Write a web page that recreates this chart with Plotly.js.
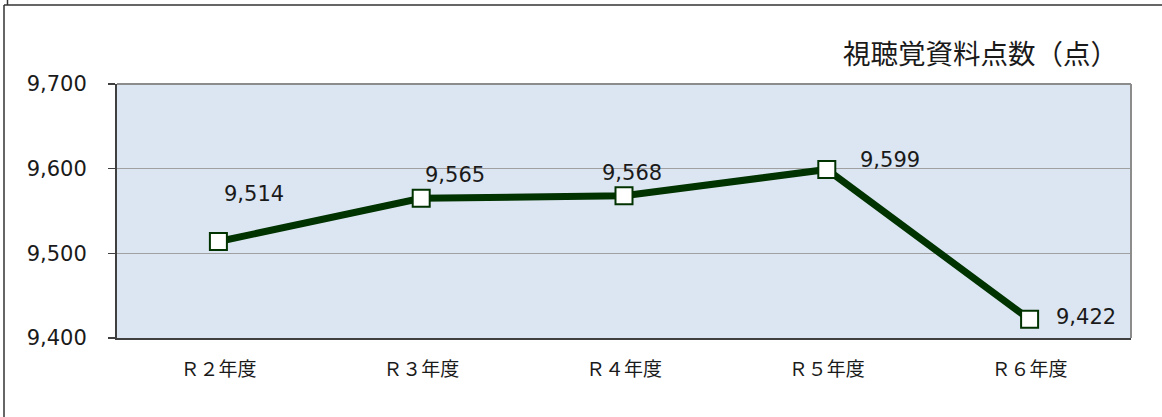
<!DOCTYPE html>
<html>
<head>
<meta charset="utf-8">
<script src="https://cdn.plot.ly/plotly-3.0.1.min.js"></script>
<style>
html, body { margin: 0; padding: 0; background: #fff; }
#chart { width: 1162px; height: 417px; }
</style>
</head>
<body>
<div id="chart"></div>
<script>
var categories = ["Ｒ２年度", "Ｒ３年度", "Ｒ４年度", "Ｒ５年度", "Ｒ６年度"];
var values = [9514, 9565, 9568, 9599, 9422];
var yTickValues = [9400, 9500, 9600, 9700];
var yTickLabels = ["9,400", "9,500", "9,600", "9,700"];
var titleText = "視聴覚資料点数（点）";

// label offsets (pixels) relative to each point — styling only
var labelShiftX = [36, 34, 8, 63, 56];
var labelShiftY = [47, 23, 23, 10, 2];

var numFont = "DejaVu Sans, Verdana, sans-serif";
var jpFont = "Noto Sans CJK JP, sans-serif";
var green = "#003300";

var trace = {
  type: "scatter",
  mode: "lines+markers",
  x: categories,
  y: values,
  line: { color: green, width: 7 },
  marker: { symbol: "square", size: 17, color: "#ffffff", line: { color: green, width: 2 } },
  hoverinfo: "skip",
  cliponaxis: false
};

var annotations = values.map(function (v, i) {
  return {
    x: categories[i], y: v, xref: "x", yref: "y",
    text: v.toLocaleString("en-US"),
    showarrow: false,
    xshift: labelShiftX[i], yshift: labelShiftY[i],
    font: { family: numFont, size: 21, color: "#1a1a1a" }
  };
});

var L = 117, R = 1131, T = 84, B = 338;
function px(x) { return (x - L) / (R - L); }
function py(y) { return (B - y) / (B - T); }

var shapes = [
  // plot area border (light top/right)
  { type: "line", xref: "paper", yref: "paper", x0: 0, x1: 1, y0: 1, y1: 1, line: { color: "#8c8c8c", width: 2 } },
  { type: "line", xref: "paper", yref: "paper", x0: 1, x1: 1, y0: 0, y1: 1, line: { color: "#8c8c8c", width: 2 } },
  // outer frame
  { type: "line", xref: "paper", yref: "paper", x0: px(4), x1: px(1162), y0: py(5), y1: py(5), line: { color: "#333333", width: 1.5 } },
  { type: "line", xref: "paper", yref: "paper", x0: px(4), x1: px(4), y0: py(5), y1: py(417), line: { color: "#333333", width: 1.5 } },
  { type: "line", xref: "paper", yref: "paper", x0: px(7.5), x1: px(7.5), y0: py(0), y1: py(5), line: { color: "#333333", width: 1.5 } }
];

var layout = {
  width: 1162, height: 417,
  margin: { l: L, r: 1162 - R, t: T, b: 417 - B, pad: 0 },
  paper_bgcolor: "#ffffff",
  plot_bgcolor: "#dce6f2",
  showlegend: false,
  title: {
    text: titleText,
    font: { family: jpFont, size: 27.5, color: "#1a1a1a" },
    xref: "paper", x: px(1118), xanchor: "right",
    yref: "container", y: 1 - 54 / 417, yanchor: "middle"
  },
  xaxis: {
    type: "category",
    range: [-0.5, 4.5],
    showgrid: false,
    zeroline: false,
    showline: true, linecolor: "#404040", linewidth: 2,
    ticks: "",
    tickfont: { family: jpFont, size: 19, color: "#1a1a1a" },
    ticklabelstandoff: 13,
    fixedrange: true
  },
  yaxis: {
    range: [9400, 9700],
    tickvals: yTickValues,
    ticktext: yTickLabels,
    showgrid: true, gridcolor: "#a0a0a0", gridwidth: 1,
    zeroline: false,
    showline: true, linecolor: "#404040", linewidth: 2,
    ticks: "outside", ticklen: 7, tickcolor: "#404040", tickwidth: 1.5,
    tickfont: { family: numFont, size: 21, color: "#1a1a1a" },
    ticklabelstandoff: 17,
    fixedrange: true
  },
  annotations: annotations,
  shapes: shapes
};

Plotly.newPlot("chart", [trace], layout, { displayModeBar: false, staticPlot: true });
</script>
</body>
</html>
